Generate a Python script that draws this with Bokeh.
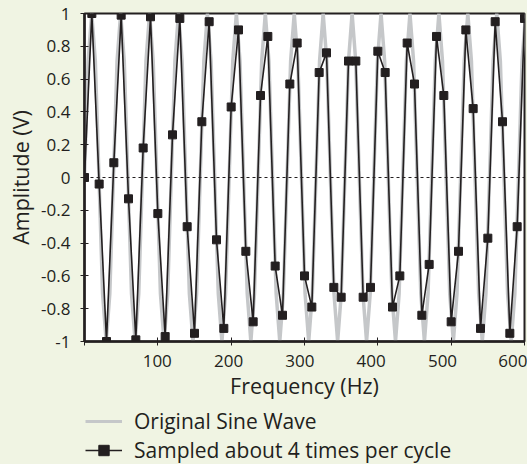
from bokeh.plotting import figure
from bokeh.layouts import column
from bokeh.models import Range1d, FixedTicker, LinearAxis, Span, Legend, LegendItem
from bokeh.embed import file_html
from bokeh.resources import INLINE

# ---------------- data ----------------
sample_freq = [0, 10, 20, 30, 40, 50, 60, 70, 80, 90,
               100, 110, 120, 130, 140, 150, 160, 170, 180, 190,
               200, 210, 220, 230, 240, 250, 260, 270, 280, 290,
               300, 310, 320, 330, 340, 350, 360, 370, 380, 390,
               400, 410, 420, 430, 440, 450, 460, 470, 480, 490,
               500, 510, 520, 530, 540, 550, 560, 570, 580, 590, 600]
sample_amp = [0.0, 1.0, -0.04, -1.0, 0.09, 0.99, -0.13, -0.99, 0.18, 0.98,
              -0.22, -0.97, 0.26, 0.97, -0.30, -0.95, 0.34, 0.95, -0.38, -0.92,
              0.43, 0.90, -0.45, -0.88, 0.50, 0.86, -0.54, -0.84, 0.57, 0.82,
              -0.60, -0.79, 0.64, 0.76, -0.67, -0.73, 0.71, 0.71, -0.73, -0.67,
              0.77, 0.64, -0.79, -0.60, 0.82, 0.57, -0.84, -0.53, 0.86, 0.50,
              -0.88, -0.45, 0.90, 0.42, -0.92, -0.37, 0.95, 0.34, -0.95, -0.30, 0.97]

wave_freq = [0, 4.93, 9.86, 14.79, 19.73, 24.66, 29.59, 34.52,
             39.45, 44.38, 49.31, 54.24, 59.18, 64.11, 69.04, 73.97,
             78.9, 83.83, 88.76, 93.69, 98.63, 103.56, 108.49, 113.42,
             118.35, 123.28, 128.21, 133.14, 138.08, 143.01, 147.94, 152.87,
             157.8, 162.73, 167.66, 172.59, 177.53, 182.46, 187.39, 192.32,
             197.25, 202.18, 207.11, 212.04, 216.98, 221.91, 226.84, 231.77,
             236.7, 241.63, 246.56, 251.49, 256.43, 261.36, 266.29, 271.22,
             276.15, 281.08, 286.01, 290.94, 295.88, 300.81, 305.74, 310.67,
             315.6, 320.53, 325.46, 330.39, 335.33, 340.26, 345.19, 350.12,
             355.05, 359.98, 364.91, 369.84, 374.78, 379.71, 384.64, 389.57,
             394.5, 399.43, 404.36, 409.29, 414.23, 419.16, 424.09, 429.02,
             433.95, 438.88, 443.81, 448.74, 453.68, 458.61, 463.54, 468.47,
             473.4, 478.33, 483.26, 488.19, 493.13, 498.06, 502.99, 507.92,
             512.85, 517.78, 522.71, 527.64, 532.58, 537.51, 542.44, 547.37,
             552.3, 557.23, 562.16, 567.09, 572.03, 576.96, 581.89, 586.82,
             591.75, 596.68, 601.61]
wave_amp = [0, 0.71, 1, 0.71, 0, -0.71, -1, -0.71,
            0, 0.71, 1, 0.71, 0, -0.71, -1, -0.71,
            0, 0.71, 1, 0.71, 0, -0.71, -1, -0.71,
            0, 0.71, 1, 0.71, 0, -0.71, -1, -0.71,
            0, 0.71, 1, 0.71, 0, -0.71, -1, -0.71,
            0, 0.71, 1, 0.71, 0, -0.71, -1, -0.71,
            0, 0.71, 1, 0.71, 0, -0.71, -1, -0.71,
            0, 0.71, 1, 0.71, 0, -0.71, -1, -0.71,
            0, 0.71, 1, 0.71, 0, -0.71, -1, -0.71,
            0, 0.71, 1, 0.71, 0, -0.71, -1, -0.71,
            0, 0.71, 1, 0.71, 0, -0.71, -1, -0.71,
            0, 0.71, 1, 0.71, 0, -0.71, -1, -0.71,
            0, 0.71, 1, 0.71, 0, -0.71, -1, -0.71,
            0, 0.71, 1, 0.71, 0, -0.71, -1, -0.71,
            0, 0.71, 1, 0.71, 0, -0.71, -1, -0.71,
            0, 0.71, 1]

x_ticks = [100, 200, 300, 400, 500, 600]
x_tick_marks = [0, 100, 200, 300, 400, 500, 600]
y_ticks = [-1, -0.8, -0.6, -0.4, -0.2, 0, 0.2, 0.4, 0.6, 0.8, 1]
y_tick_labels = ["-1", "-0.8", "-0.6", "-0.4", "-0.2", "0", "0.2", "0.4", "0.6", "0.8", "1"]

series_names = ["Original Sine Wave", "Sampled about 4 times per cycle"]
x_title = "Frequency (Hz)"
y_title = "Amplitude (V)"

# ---------------- style ----------------
FONT = "Open Sans"
INK = "#231F20"
BG = "#F0F4E3"
GRAY = "#C5C7C9"

p = figure(width=527, height=408, output_backend="svg", toolbar_location=None,
           x_range=Range1d(0, 600), y_range=Range1d(-1, 1),
           x_axis_location=None,
           min_border_left=84, min_border_right=3, min_border_top=13, min_border_bottom=67,
           background_fill_color="white", border_fill_color=BG,
           outline_line_color=INK, outline_line_width=2)
p.grid.visible = False
p.extra_x_ranges = {"labels": Range1d(-2, 615)}

# zero reference line
p.add_layout(Span(location=0, dimension="width", line_color=INK,
                  line_width=1, line_dash="3 3"))

wave = p.line(wave_freq, wave_amp, line_color=GRAY, line_width=3.5)
samp_line = p.line(sample_freq, sample_amp, line_color=INK, line_width=1.6)
samp_pts = p.scatter(sample_freq, sample_amp, marker="square", size=8,
                     fill_color=INK, line_color=INK)

# y axis
ya = p.yaxis[0]
ya.ticker = FixedTicker(ticks=y_ticks)
ya.major_label_overrides = {t: l for t, l in zip(y_ticks, y_tick_labels)}
ya.axis_label = y_title
ya.axis_label_text_font = FONT
ya.axis_label_text_font_size = "21.5px"
ya.axis_label_text_font_style = "normal"
ya.axis_label_text_color = INK
ya.axis_label_standoff = 3
ya.major_label_text_font = FONT
ya.major_label_text_font_size = "17px"
ya.major_label_text_color = INK
ya.major_label_standoff = 10
ya.major_tick_in = 4
ya.major_tick_out = 4
ya.major_tick_line_color = INK
ya.minor_tick_line_color = None
ya.axis_line_color = INK
ya.axis_line_width = 2.5

# x axis: tick marks on the data scale (no labels)
xt = LinearAxis(ticker=FixedTicker(ticks=x_tick_marks))
xt.major_label_text_font_size = "1px"
xt.major_label_text_color = None
xt.major_label_standoff = 0
xt.major_tick_in = 4
xt.major_tick_out = 4
xt.major_tick_line_color = INK
xt.minor_tick_line_color = None
xt.axis_line_color = INK
xt.axis_line_width = 2.5
p.add_layout(xt, "below")

# x axis: labels as placed in the original
xl = LinearAxis(x_range_name="labels", ticker=FixedTicker(ticks=x_ticks))
xl.axis_line_color = None
xl.major_tick_line_color = None
xl.minor_tick_line_color = None
xl.major_tick_in = 0
xl.major_tick_out = 0
xl.major_label_standoff = 9
xl.major_label_text_font = FONT
xl.major_label_text_font_size = "17px"
xl.major_label_text_color = INK
xl.axis_label = x_title
xl.axis_label_text_font = FONT
xl.axis_label_text_font_size = "21.5px"
xl.axis_label_text_font_style = "normal"
xl.axis_label_text_color = INK
xl.axis_label_standoff = 1
p.add_layout(xl, "below")

# legend strip under the chart (key glyphs reuse the series, kept out of view)
leg = figure(width=527, height=56, output_backend="svg", toolbar_location=None,
             x_range=Range1d(0, 600), y_range=Range1d(2, 3),
             x_axis_location=None, y_axis_location=None,
             min_border=0, outline_line_color=None,
             background_fill_color=BG, border_fill_color=BG)
leg.grid.visible = False
k_wave = leg.line(wave_freq, wave_amp, line_color=GRAY, line_width=3)
k_line = leg.line(sample_freq, sample_amp, line_color=INK, line_width=1.6)
k_pts = leg.scatter(sample_freq, sample_amp, marker="square", size=7,
                    fill_color=INK, line_color=INK)

legend_style = dict(orientation="vertical", background_fill_alpha=0,
                    border_line_color=None, padding=0, margin=0, spacing=0,
                    glyph_width=37, glyph_height=26, label_height=26,
                    label_standoff=12, label_text_font=FONT,
                    label_text_font_size="21px", label_text_color=INK)
leg.add_layout(Legend(items=[LegendItem(label=series_names[0], renderers=[k_wave])],
                      location=(1, 29), **legend_style))
leg.add_layout(Legend(items=[LegendItem(label=series_names[1], renderers=[k_line, k_pts])],
                      location=(1, 0), **legend_style))

layout = column(p, leg, spacing=0)

html = file_html(layout, INLINE, title="Sampled sine wave")
html = html.replace("</head>",
                    "<style>html,body{margin:0;padding:0;background:%s;}</style></head>" % BG)
open("out.html", "w").write(html)
